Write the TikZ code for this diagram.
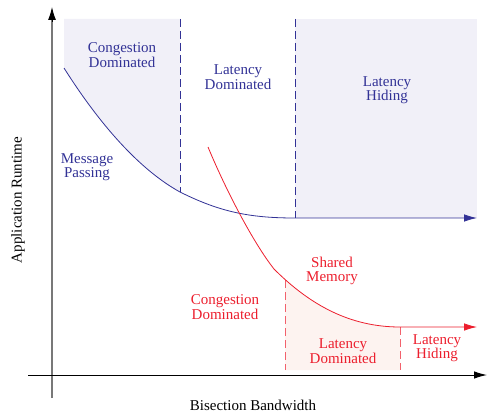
\documentclass[tikz,border=0pt]{standalone}
\usepackage{fontspec}
\setmainfont{Liberation Serif}
\usetikzlibrary{arrows.meta}
\definecolor{mpblue}{RGB}{50,50,150}
\definecolor{mpshade}{RGB}{241,240,248}
\definecolor{smred}{RGB}{236,30,45}
\definecolor{smshade}{RGB}{253,243,240}
\definecolor{axgray}{RGB}{120,120,120}
\tikzset{
  lbl/.style={align=center, inner sep=0pt, font=\fontsize{15}{14.5}\selectfont},
  bluelbl/.style={lbl, text=mpblue},
  redlbl/.style={lbl, text=smred},
  bluedash/.style={draw=mpblue, line width=0.8pt, dash pattern=on 8pt off 4pt},
  reddash/.style={draw=smred!70, line width=0.8pt, dash pattern=on 8pt off 4pt},
  tip/.style={-{Latex[length=13pt,width=7.5pt]}}
}
\begin{document}
\begin{tikzpicture}[x=1pt,y=-1pt]
\useasboundingbox (0,0) rectangle (487,412);
% shaded regions
\begin{scope}
\clip (64,19) rectangle (180,400);
\fill[mpshade] (64,19) -- (64,68) .. controls (100,125) and (140,170) .. (180,192) -- (180,19) -- cycle;
\end{scope}
\fill[mpshade] (295,19) rectangle (477,218);
\begin{scope}
\clip (285,0) rectangle (400,370);
\fill[smshade] (274,269) .. controls (310,305) and (350,327) .. (400,327) -- (400,370) -- (274,370) -- cycle;
\end{scope}
% coordinates
\coordinate (yb) at (52,398);
\coordinate (yt) at (52,7);
\coordinate (xl) at (28,375);
\coordinate (xr) at (487,375);
\coordinate (bs) at (64,68);
\coordinate (bm) at (180,192);
\coordinate (be) at (477,218);
\coordinate (rs) at (208,147);
\coordinate (rm) at (274,269);
\coordinate (re) at (477,327);
% dashed dividers
\draw[bluedash] (180,19) -- (bm);
\draw[bluedash] (295,19) -- (295,218);
\draw[reddash] (285,280) -- (285,370);
\draw[reddash] (400,327) -- (400,370);
% axes
\draw[axgray, line width=1.2pt] (yb) -- (52,20);
\draw[black, line width=1pt, -{Latex[length=13pt,width=8pt,color=black]}] (52,22) -- (yt);
\draw[black, line width=1pt, tip] (xl) -- (xr);
% curves
\draw[mpblue, line width=0.8pt, tip] (bs) .. controls (100,125) and (140,170) .. (bm) .. controls (220,212) and (250,218) .. (295,218) -- (be);
\draw[smred, line width=0.8pt, tip] (rs) .. controls (228,195) and (255,245) .. (rm) .. controls (310,305) and (350,327) .. (400,327) -- (re);
% labels
\node[bluelbl] (cd1) at (122,55) {Congestion\\Dominated};
\node[bluelbl] (ld1) at (238,77) {Latency\\Dominated};
\node[bluelbl] (lh1) at (387,90) {Latency\\Hiding};
\node[bluelbl] (mp) at (87,167) {Message\\Passing};
\node[redlbl] (sm) at (332,271) {Shared\\Memory};
\node[redlbl] (cd2) at (225,307) {Congestion\\Dominated};
\node[redlbl] (ld2) at (343,351) {Latency\\Dominated};
\node[redlbl] (lh2) at (437,348) {Latency\\Hiding};
\node[lbl] (xlab) at (253,405) {Bisection Bandwidth};
\node[lbl, rotate=90] (ylab) at (18,200) {Application Runtime};
\end{tikzpicture}
\end{document}
